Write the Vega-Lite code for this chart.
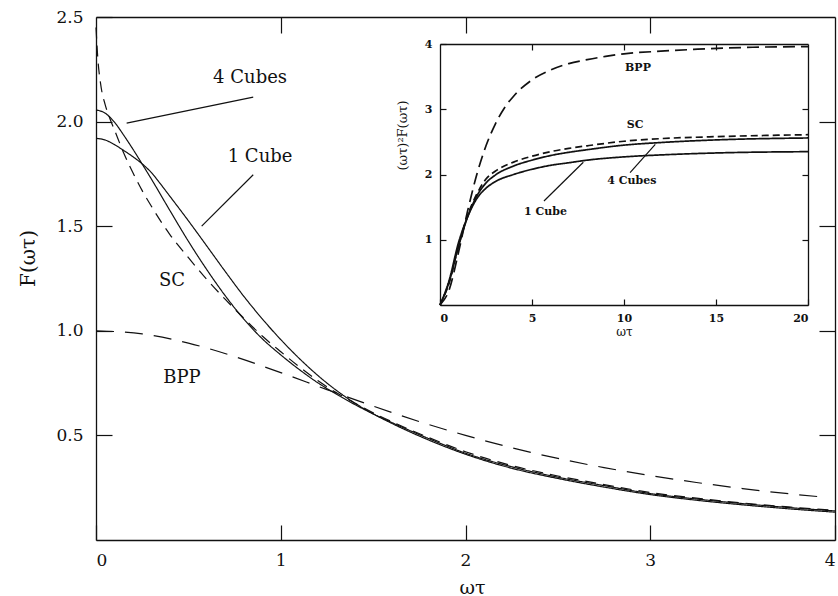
{
  "$schema": "https://vega.github.io/schema/vega-lite/v6.json",
  "width": 739,
  "height": 523,
  "autosize": {"type": "none"},
  "padding": {"left": 96, "top": 17, "right": 3, "bottom": 56},
  "background": "white",
  "config": {
    "view": {"stroke": null},
    "axis": {
      "grid": false,
      "domainColor": "#111",
      "domainWidth": 1.3,
      "tickColor": "#111",
      "tickWidth": 1.2,
      "labelColor": "#111",
      "titleColor": "#111",
      "labelFont": "DejaVu Serif",
      "titleFont": "DejaVu Serif",
      "titleFontWeight": "normal"
    },
    "text": {"font": "DejaVu Serif", "color": "#111"}
  },
  "datasets": {
    "main": [
      {"x": 0, "y": 2.056, "s": "4 Cubes"}, {"x": 0.05, "y": 2.04, "s": "4 Cubes"}, {"x": 0.1, "y": 1.997, "s": "4 Cubes"},
      {"x": 0.15, "y": 1.935, "s": "4 Cubes"}, {"x": 0.2, "y": 1.868, "s": "4 Cubes"}, {"x": 0.25, "y": 1.797, "s": "4 Cubes"},
      {"x": 0.3, "y": 1.725, "s": "4 Cubes"}, {"x": 0.4, "y": 1.575, "s": "4 Cubes"}, {"x": 0.5, "y": 1.428, "s": "4 Cubes"},
      {"x": 0.6, "y": 1.292, "s": "4 Cubes"}, {"x": 0.7, "y": 1.167, "s": "4 Cubes"}, {"x": 0.8, "y": 1.056, "s": "4 Cubes"},
      {"x": 0.9, "y": 0.962, "s": "4 Cubes"}, {"x": 1.0, "y": 0.885, "s": "4 Cubes"}, {"x": 1.1, "y": 0.815, "s": "4 Cubes"},
      {"x": 1.2, "y": 0.752, "s": "4 Cubes"}, {"x": 1.3, "y": 0.698, "s": "4 Cubes"}, {"x": 1.4, "y": 0.648, "s": "4 Cubes"},
      {"x": 1.5, "y": 0.603, "s": "4 Cubes"}, {"x": 1.6, "y": 0.562, "s": "4 Cubes"}, {"x": 1.8, "y": 0.485, "s": "4 Cubes"},
      {"x": 2.0, "y": 0.415, "s": "4 Cubes"}, {"x": 2.25, "y": 0.35, "s": "4 Cubes"}, {"x": 2.5, "y": 0.3, "s": "4 Cubes"},
      {"x": 2.75, "y": 0.26, "s": "4 Cubes"}, {"x": 3.0, "y": 0.222, "s": "4 Cubes"}, {"x": 3.25, "y": 0.196, "s": "4 Cubes"},
      {"x": 3.5, "y": 0.174, "s": "4 Cubes"}, {"x": 3.75, "y": 0.155, "s": "4 Cubes"}, {"x": 4.0, "y": 0.139, "s": "4 Cubes"},

      {"x": 0, "y": 1.92, "s": "1 Cube"}, {"x": 0.05, "y": 1.912, "s": "1 Cube"}, {"x": 0.1, "y": 1.89, "s": "1 Cube"},
      {"x": 0.15, "y": 1.862, "s": "1 Cube"}, {"x": 0.2, "y": 1.832, "s": "1 Cube"}, {"x": 0.25, "y": 1.798, "s": "1 Cube"},
      {"x": 0.3, "y": 1.756, "s": "1 Cube"}, {"x": 0.35, "y": 1.701, "s": "1 Cube"}, {"x": 0.4, "y": 1.643, "s": "1 Cube"},
      {"x": 0.5, "y": 1.526, "s": "1 Cube"}, {"x": 0.6, "y": 1.405, "s": "1 Cube"}, {"x": 0.7, "y": 1.283, "s": "1 Cube"},
      {"x": 0.8, "y": 1.165, "s": "1 Cube"}, {"x": 0.9, "y": 1.057, "s": "1 Cube"}, {"x": 1.0, "y": 0.958, "s": "1 Cube"},
      {"x": 1.1, "y": 0.868, "s": "1 Cube"}, {"x": 1.2, "y": 0.787, "s": "1 Cube"}, {"x": 1.3, "y": 0.716, "s": "1 Cube"},
      {"x": 1.4, "y": 0.655, "s": "1 Cube"}, {"x": 1.5, "y": 0.603, "s": "1 Cube"}, {"x": 1.6, "y": 0.558, "s": "1 Cube"},
      {"x": 1.8, "y": 0.478, "s": "1 Cube"}, {"x": 2.0, "y": 0.41, "s": "1 Cube"}, {"x": 2.25, "y": 0.343, "s": "1 Cube"},
      {"x": 2.5, "y": 0.294, "s": "1 Cube"}, {"x": 2.75, "y": 0.253, "s": "1 Cube"}, {"x": 3.0, "y": 0.217, "s": "1 Cube"},
      {"x": 3.25, "y": 0.19, "s": "1 Cube"}, {"x": 3.5, "y": 0.168, "s": "1 Cube"}, {"x": 3.75, "y": 0.149, "s": "1 Cube"},
      {"x": 4.0, "y": 0.133, "s": "1 Cube"},

      {"x": 0, "y": 2.45, "s": "SC"}, {"x": 0.01, "y": 2.3, "s": "SC"}, {"x": 0.025, "y": 2.18, "s": "SC"},
      {"x": 0.05, "y": 2.08, "s": "SC"}, {"x": 0.075, "y": 2.015, "s": "SC"}, {"x": 0.1, "y": 1.96, "s": "SC"},
      {"x": 0.15, "y": 1.85, "s": "SC"}, {"x": 0.2, "y": 1.755, "s": "SC"}, {"x": 0.25, "y": 1.67, "s": "SC"},
      {"x": 0.3, "y": 1.595, "s": "SC"}, {"x": 0.4, "y": 1.46, "s": "SC"}, {"x": 0.5, "y": 1.35, "s": "SC"},
      {"x": 0.6, "y": 1.245, "s": "SC"}, {"x": 0.7, "y": 1.15, "s": "SC"}, {"x": 0.8, "y": 1.06, "s": "SC"},
      {"x": 0.9, "y": 0.975, "s": "SC"}, {"x": 1.0, "y": 0.9, "s": "SC"}, {"x": 1.1, "y": 0.828, "s": "SC"},
      {"x": 1.2, "y": 0.762, "s": "SC"}, {"x": 1.3, "y": 0.705, "s": "SC"}, {"x": 1.4, "y": 0.655, "s": "SC"},
      {"x": 1.5, "y": 0.608, "s": "SC"}, {"x": 1.6, "y": 0.566, "s": "SC"}, {"x": 1.8, "y": 0.49, "s": "SC"},
      {"x": 2.0, "y": 0.422, "s": "SC"}, {"x": 2.25, "y": 0.356, "s": "SC"}, {"x": 2.5, "y": 0.306, "s": "SC"},
      {"x": 2.75, "y": 0.265, "s": "SC"}, {"x": 3.0, "y": 0.227, "s": "SC"}, {"x": 3.25, "y": 0.2, "s": "SC"},
      {"x": 3.5, "y": 0.177, "s": "SC"}, {"x": 3.75, "y": 0.158, "s": "SC"}, {"x": 4.0, "y": 0.142, "s": "SC"},

      {"x": 0, "y": 1.0, "s": "BPP"}, {"x": 0.25, "y": 0.985, "s": "BPP"}, {"x": 0.5, "y": 0.941, "s": "BPP"},
      {"x": 0.75, "y": 0.877, "s": "BPP"}, {"x": 1.0, "y": 0.8, "s": "BPP"}, {"x": 1.25, "y": 0.719, "s": "BPP"},
      {"x": 1.5, "y": 0.64, "s": "BPP"}, {"x": 1.75, "y": 0.566, "s": "BPP"}, {"x": 2.0, "y": 0.5, "s": "BPP"},
      {"x": 2.25, "y": 0.441, "s": "BPP"}, {"x": 2.5, "y": 0.39, "s": "BPP"}, {"x": 2.75, "y": 0.346, "s": "BPP"},
      {"x": 3.0, "y": 0.308, "s": "BPP"}, {"x": 3.25, "y": 0.275, "s": "BPP"}, {"x": 3.5, "y": 0.246, "s": "BPP"},
      {"x": 3.75, "y": 0.221, "s": "BPP"}, {"x": 3.94, "y": 0.205, "s": "BPP"}
    ],
    "mainLabels": [
      {"t": "4 Cubes", "x": 0.834, "y": 2.185},
      {"t": "1 Cube", "x": 0.888, "y": 1.808},
      {"t": "SC", "x": 0.411, "y": 1.212},
      {"t": "BPP", "x": 0.465, "y": 0.749}
    ],
    "mainPointers": [
      {"x": 0.166, "y": 1.993, "x2": 0.851, "y2": 2.117},
      {"x": 0.572, "y": 1.5, "x2": 0.851, "y2": 1.746}
    ],
    "inset": [
      {"x": 0, "y": 0, "s": "BPP"}, {"x": 0.5, "y": 0.235, "s": "BPP"}, {"x": 1, "y": 0.8, "s": "BPP"},
      {"x": 1.5, "y": 1.44, "s": "BPP"}, {"x": 2, "y": 2.0, "s": "BPP"}, {"x": 2.5, "y": 2.44, "s": "BPP"},
      {"x": 3, "y": 2.77, "s": "BPP"}, {"x": 3.5, "y": 3.02, "s": "BPP"}, {"x": 4, "y": 3.2, "s": "BPP"},
      {"x": 5, "y": 3.45, "s": "BPP"}, {"x": 6, "y": 3.6, "s": "BPP"}, {"x": 7, "y": 3.7, "s": "BPP"},
      {"x": 8, "y": 3.76, "s": "BPP"}, {"x": 9, "y": 3.81, "s": "BPP"}, {"x": 10, "y": 3.85, "s": "BPP"},
      {"x": 12, "y": 3.89, "s": "BPP"}, {"x": 14, "y": 3.92, "s": "BPP"}, {"x": 17, "y": 3.95, "s": "BPP"},
      {"x": 20, "y": 3.96, "s": "BPP"},

      {"x": 0, "y": 0, "s": "SC"}, {"x": 0.25, "y": 0.15, "s": "SC"}, {"x": 0.5, "y": 0.34, "s": "SC"},
      {"x": 1, "y": 0.9, "s": "SC"}, {"x": 1.5, "y": 1.37, "s": "SC"}, {"x": 2, "y": 1.7, "s": "SC"},
      {"x": 2.5, "y": 1.93, "s": "SC"}, {"x": 3, "y": 2.05, "s": "SC"}, {"x": 4, "y": 2.19, "s": "SC"},
      {"x": 5, "y": 2.28, "s": "SC"}, {"x": 6, "y": 2.35, "s": "SC"}, {"x": 7, "y": 2.4, "s": "SC"},
      {"x": 8, "y": 2.44, "s": "SC"}, {"x": 10, "y": 2.51, "s": "SC"}, {"x": 12, "y": 2.55, "s": "SC"},
      {"x": 15, "y": 2.58, "s": "SC"}, {"x": 20, "y": 2.61, "s": "SC"},

      {"x": 0, "y": 0, "s": "4 Cubes"}, {"x": 0.5, "y": 0.357, "s": "4 Cubes"}, {"x": 1, "y": 0.89, "s": "4 Cubes"},
      {"x": 1.5, "y": 1.35, "s": "4 Cubes"}, {"x": 2, "y": 1.67, "s": "4 Cubes"}, {"x": 2.5, "y": 1.87, "s": "4 Cubes"},
      {"x": 3, "y": 1.99, "s": "4 Cubes"}, {"x": 4, "y": 2.13, "s": "4 Cubes"}, {"x": 5, "y": 2.22, "s": "4 Cubes"},
      {"x": 6, "y": 2.29, "s": "4 Cubes"}, {"x": 7, "y": 2.34, "s": "4 Cubes"}, {"x": 8, "y": 2.38, "s": "4 Cubes"},
      {"x": 10, "y": 2.45, "s": "4 Cubes"}, {"x": 12, "y": 2.49, "s": "4 Cubes"}, {"x": 15, "y": 2.53, "s": "4 Cubes"},
      {"x": 20, "y": 2.56, "s": "4 Cubes"},

      {"x": 0, "y": 0, "s": "1 Cube"}, {"x": 0.5, "y": 0.38, "s": "1 Cube"}, {"x": 1, "y": 0.95, "s": "1 Cube"},
      {"x": 1.5, "y": 1.35, "s": "1 Cube"}, {"x": 2, "y": 1.63, "s": "1 Cube"}, {"x": 2.5, "y": 1.79, "s": "1 Cube"},
      {"x": 3, "y": 1.89, "s": "1 Cube"}, {"x": 4, "y": 2.0, "s": "1 Cube"}, {"x": 5, "y": 2.08, "s": "1 Cube"},
      {"x": 6, "y": 2.14, "s": "1 Cube"}, {"x": 7, "y": 2.18, "s": "1 Cube"}, {"x": 8, "y": 2.22, "s": "1 Cube"},
      {"x": 10, "y": 2.27, "s": "1 Cube"}, {"x": 12, "y": 2.3, "s": "1 Cube"}, {"x": 15, "y": 2.33, "s": "1 Cube"},
      {"x": 20, "y": 2.35, "s": "1 Cube"}
    ],
    "insetLabels": [
      {"t": "BPP", "x": 10.76, "y": 3.59},
      {"t": "SC", "x": 10.6, "y": 2.71},
      {"t": "4 Cubes", "x": 10.43, "y": 1.855},
      {"t": "1 Cube", "x": 5.73, "y": 1.38}
    ],
    "insetPointers": [
      {"x": 5.65, "y": 1.594, "x2": 7.79, "y2": 2.187},
      {"x": 10.33, "y": 2.028, "x2": 11.7, "y2": 2.463}
    ]
  },
  "layer": [
    {
      "layer": [
        {
          "data": {"name": "main"},
          "mark": {"type": "line", "color": "#111", "strokeWidth": 1.2, "interpolate": "monotone"},
          "encoding": {
            "x": {
              "field": "x", "type": "quantitative",
              "scale": {"domain": [0, 4], "nice": false, "zero": false},
              "axis": {
                "orient": "bottom", "values": [0, 1, 2, 3, 4], "format": "d",
                "tickSize": -15, "labelPadding": 27, "labelFontSize": 17,
                "title": "ωτ", "titleFontSize": 19, "titleX": 376, "titleY": 53,
                "titleBaseline": "alphabetic"
              }
            },
            "y": {
              "field": "y", "type": "quantitative",
              "scale": {"domain": [0, 2.5], "nice": false, "zero": false},
              "axis": {
                "orient": "left", "values": [0.5, 1, 1.5, 2, 2.5], "format": ".1f",
                "tickSize": -16, "labelPadding": 29, "labelFontSize": 17,
                "title": "F(ωτ)", "titleFontSize": 20, "titleX": -68, "titleY": 241,
                "titleBaseline": "middle", "titleAlign": "center"
              }
            },
            "strokeDash": {
              "field": "s", "type": "nominal",
              "scale": {"domain": ["1 Cube", "4 Cubes", "SC", "BPP"], "range": [[1, 0], [1, 0], [11, 7], [18, 11]]},
              "legend": null
            }
          }
        },
        {
          "data": {"name": "main"},
          "mark": {"type": "line", "opacity": 0},
          "encoding": {
            "x": {
              "field": "x", "type": "quantitative",
              "axis": {"orient": "top", "values": [1, 2, 3], "labels": false, "tickSize": -16, "title": null}
            },
            "y": {
              "field": "y", "type": "quantitative",
              "axis": {"orient": "right", "values": [0.5, 1, 1.5, 2], "labels": false, "tickSize": -16, "title": null}
            },
            "detail": {"field": "s"}
          }
        },
        {
          "data": {"name": "mainPointers"},
          "mark": {"type": "rule", "color": "#111", "strokeWidth": 1.2},
          "encoding": {
            "x": {"field": "x", "type": "quantitative", "axis": null},
            "x2": {"field": "x2"},
            "y": {"field": "y", "type": "quantitative", "axis": null},
            "y2": {"field": "y2"}
          }
        },
        {
          "data": {"name": "mainLabels"},
          "mark": {"type": "text", "fontSize": 18, "align": "center", "baseline": "alphabetic"},
          "encoding": {
            "x": {"field": "x", "type": "quantitative", "axis": null},
            "y": {"field": "y", "type": "quantitative", "axis": null},
            "text": {"field": "t"}
          }
        }
      ],
      "resolve": {"axis": {"x": "independent", "y": "independent"}}
    },
    {
      "layer": [
        {
          "data": {"name": "inset"},
          "mark": {"type": "line", "color": "#111", "strokeWidth": 1.7, "interpolate": "monotone"},
          "encoding": {
            "x": {
              "field": "x", "type": "quantitative",
              "scale": {"domain": [0, 20], "nice": false, "zero": false, "range": [344, 712]},
              "axis": {
                "orient": "bottom", "offset": -235, "values": [0, 5, 10, 15, 20], "format": "d",
                "tickSize": -6, "labelPadding": 13, "labelFontSize": 11, "labelFontWeight": "bold",
                "title": "ωτ", "titleFontSize": 12, "titleY": 30, "titleBaseline": "alphabetic"
              }
            },
            "y": {
              "field": "y", "type": "quantitative",
              "scale": {"domain": [0, 4], "nice": false, "zero": false, "range": [288, 27]},
              "axis": {
                "orient": "left", "offset": -344, "values": [1, 2, 3, 4], "format": "d",
                "tickSize": -6, "labelPadding": 14, "labelFontSize": 11, "labelFontWeight": "bold",
                "title": "(ωτ)²F(ωτ)", "titleFontSize": 13, "titleX": -38, "titleY": 118,
                "titleBaseline": "middle", "titleAlign": "center"
              }
            },
            "strokeDash": {
              "field": "s", "type": "nominal",
              "scale": {"domain": ["1 Cube", "4 Cubes", "SC", "BPP"], "range": [[1, 0], [1, 0], [7, 4], [12, 6]]},
              "legend": null
            }
          }
        },
        {
          "data": {"name": "inset"},
          "mark": {"type": "line", "opacity": 0},
          "encoding": {
            "x": {
              "field": "x", "type": "quantitative",
              "axis": {"orient": "top", "offset": -27, "values": [5, 10, 15], "labels": false, "tickSize": -6, "title": null}
            },
            "y": {
              "field": "y", "type": "quantitative",
              "axis": {"orient": "right", "offset": -27, "values": [1, 2, 3], "labels": false, "tickSize": -6, "title": null}
            },
            "detail": {"field": "s"}
          }
        },
        {
          "data": {"name": "insetPointers"},
          "mark": {"type": "rule", "color": "#111", "strokeWidth": 1.2},
          "encoding": {
            "x": {"field": "x", "type": "quantitative", "axis": null},
            "x2": {"field": "x2"},
            "y": {"field": "y", "type": "quantitative", "axis": null},
            "y2": {"field": "y2"}
          }
        },
        {
          "data": {"name": "insetLabels"},
          "mark": {"type": "text", "fontSize": 11, "fontWeight": "bold", "align": "center", "baseline": "alphabetic"},
          "encoding": {
            "x": {"field": "x", "type": "quantitative", "axis": null},
            "y": {"field": "y", "type": "quantitative", "axis": null},
            "text": {"field": "t"}
          }
        }
      ],
      "resolve": {"axis": {"x": "independent", "y": "independent"}}
    }
  ],
  "resolve": {"scale": {"x": "independent", "y": "independent", "strokeDash": "independent"}}
}
